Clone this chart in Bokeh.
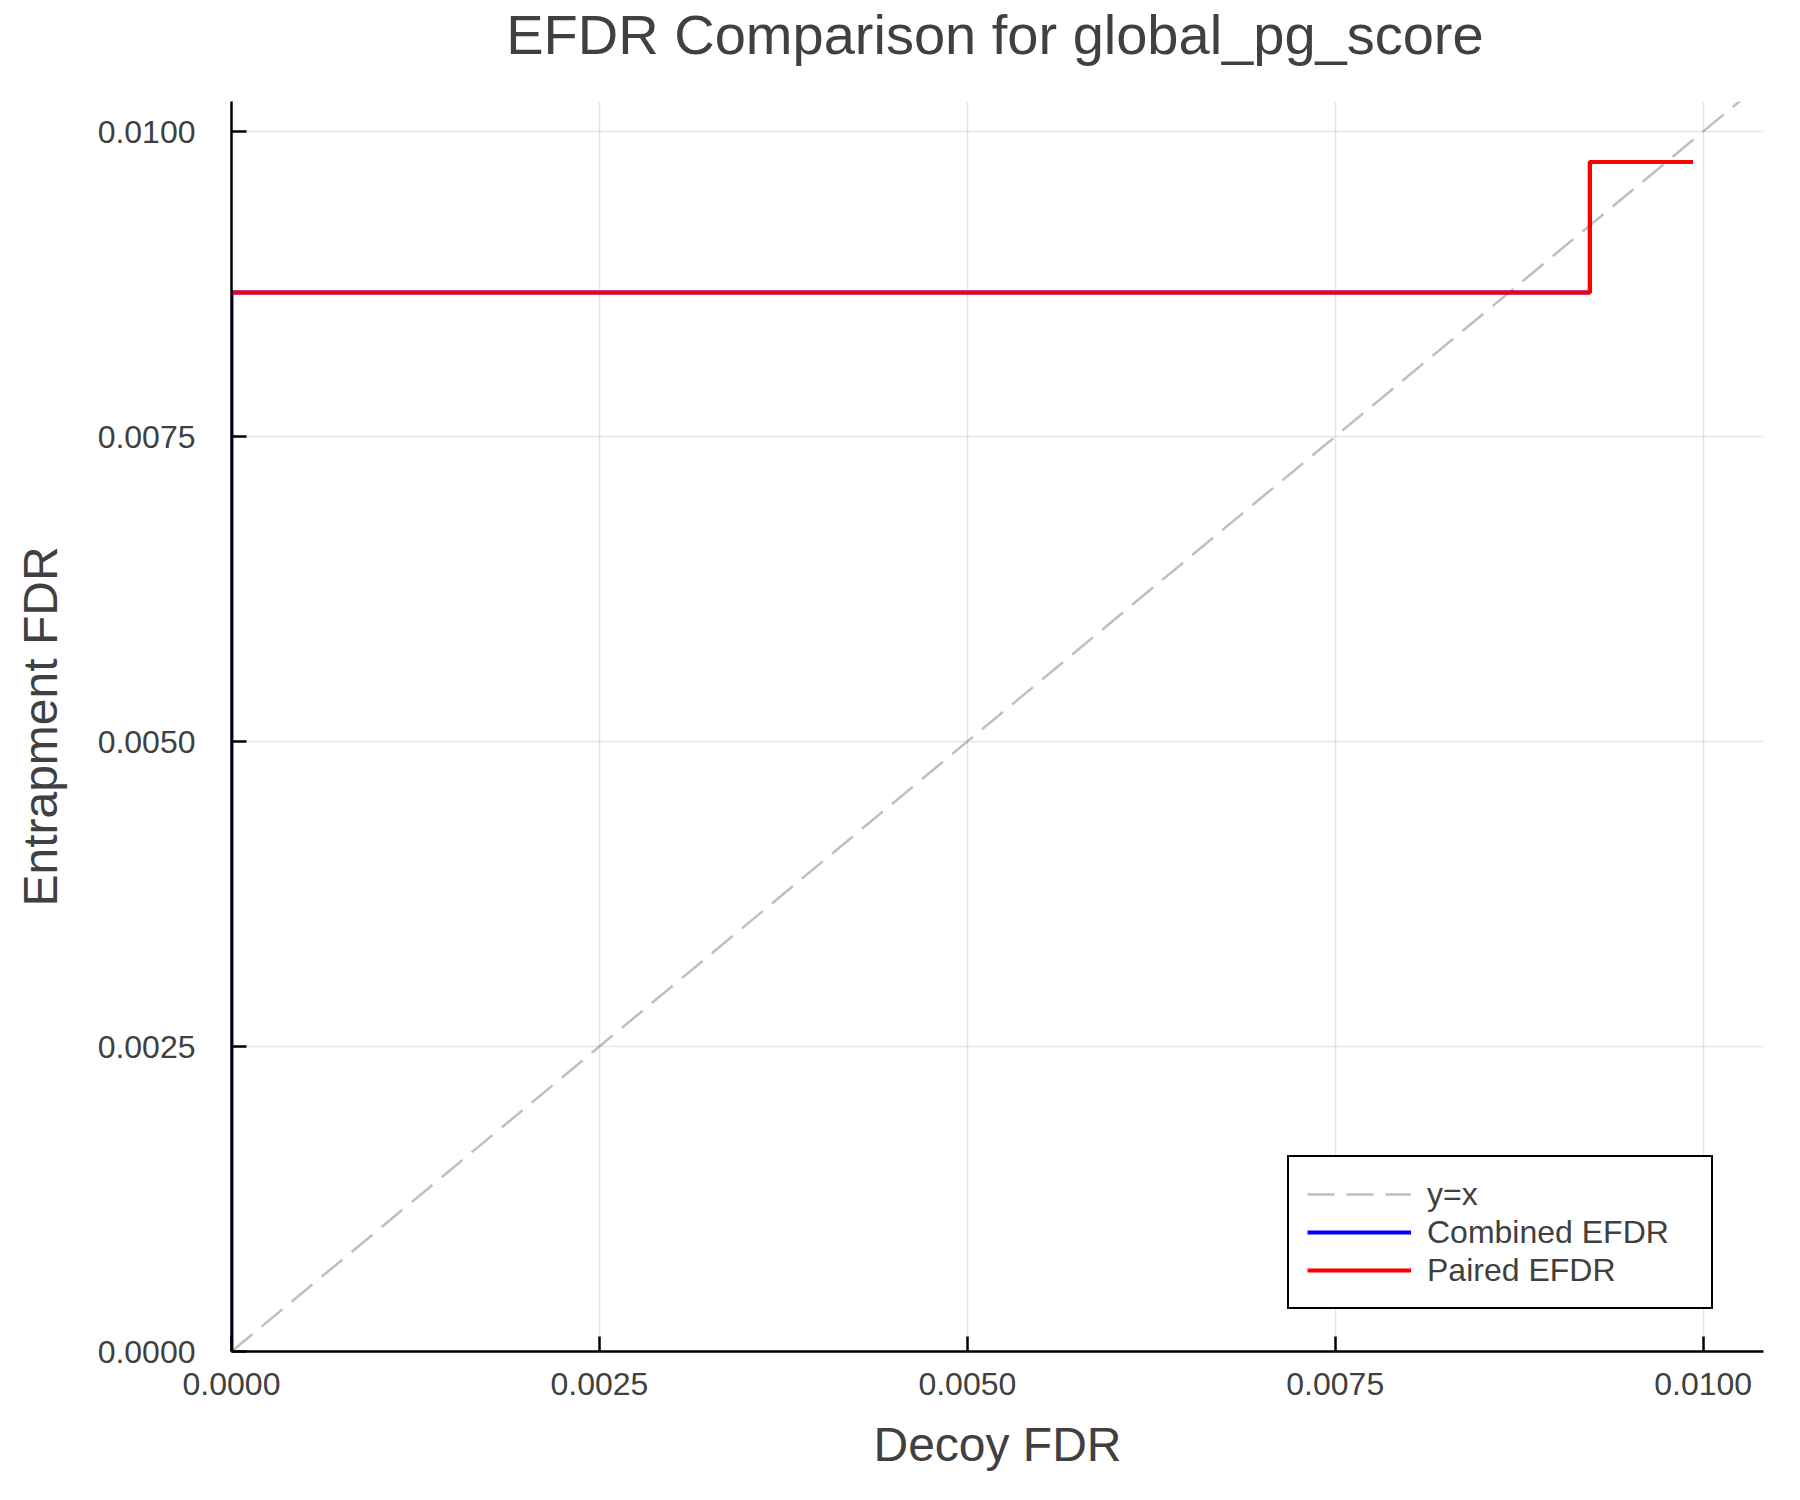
from bokeh.plotting import figure
from bokeh.layouts import column
from bokeh.models import Range1d, FixedTicker, Legend, LegendItem, CustomJSTickFormatter
from bokeh.core.properties import value
from bokeh.embed import file_html
from bokeh.resources import INLINE

# ---- data ----
diag_x = [0.0, 0.0105]
diag_y = [0.0, 0.0105]
combined_x = [0.0, 0.0, 0.00923, 0.00923, 0.00993]
combined_y = [0.0, 0.00868, 0.00868, 0.00975, 0.00975]
paired_x = [0.0, 0.00923, 0.00923, 0.00993]
paired_y = [0.00868, 0.00868, 0.00975, 0.00975]
tick_values = [0.0, 0.0025, 0.005, 0.0075, 0.01]
title_text = "EFDR Comparison for global_pg_score"

FONT = "Liberation Sans"
TXT = "#404040"
TITLE_H = 80

# ---- title strip ----
t = figure(width=1800, height=TITLE_H, output_backend="svg", toolbar_location=None,
           x_range=Range1d(0, 1800), y_range=Range1d(0, TITLE_H),
           x_axis_location=None, y_axis_location=None,
           min_border_left=0, min_border_right=0, min_border_top=0, min_border_bottom=0)
t.outline_line_color = None
t.grid.visible = False
t.background_fill_color = "white"
t.border_fill_color = "white"
t.text(x=[897], y=[TITLE_H - 34], text=[title_text], text_align="center",
       text_baseline="middle", text_font=value(FONT), text_font_size="56px",
       text_color=TXT)

# ---- main plot ----
p = figure(width=1800, height=1500 - TITLE_H, output_backend="svg", toolbar_location=None,
           x_range=Range1d(0.0, 0.01041), y_range=Range1d(0.0, 0.010246),
           min_border_left=231, min_border_right=37, min_border_top=101 - TITLE_H,
           min_border_bottom=149)
p.outline_line_color = None
p.background_fill_color = "white"
p.border_fill_color = "white"

for ax in (p.xaxis[0], p.yaxis[0]):
    ax.ticker = FixedTicker(ticks=tick_values)
    ax.formatter = CustomJSTickFormatter(code="return tick.toFixed(4);")
    ax.axis_line_color = "black"
    ax.axis_line_width = 2.5
    ax.major_tick_line_color = "black"
    ax.major_tick_line_width = 2.5
    ax.major_tick_in = 15
    ax.major_tick_out = 0
    ax.minor_tick_line_color = None
    ax.major_label_text_font = FONT
    ax.major_label_text_font_size = "32px"
    ax.major_label_text_color = TXT
    ax.axis_label_text_font = FONT
    ax.axis_label_text_font_size = "48px"
    ax.axis_label_text_font_style = "normal"
    ax.axis_label_text_color = TXT

p.xaxis.axis_label = "Decoy FDR"
p.yaxis.axis_label = "Entrapment FDR"
p.xaxis.major_label_standoff = 21
p.yaxis.major_label_standoff = 36
p.xaxis.axis_label_standoff = 20
p.yaxis.axis_label_standoff = 28

p.xgrid.ticker = FixedTicker(ticks=tick_values)
p.ygrid.ticker = FixedTicker(ticks=tick_values)
p.grid.grid_line_color = "black"
p.grid.grid_line_alpha = 0.1
p.grid.grid_line_width = 1.5

r_diag = p.line(diag_x, diag_y, line_color="gray", line_alpha=0.5, line_width=2.5,
                line_dash="27 12")
r_comb = p.line(combined_x, combined_y, line_color="blue", line_width=4)
r_pair = p.line(paired_x, paired_y, line_color="red", line_width=4)

legend = Legend(items=[LegendItem(label="y=x", renderers=[r_diag]),
                       LegendItem(label="Combined EFDR", renderers=[r_comb]),
                       LegendItem(label="Paired EFDR", renderers=[r_pair])],
                location=(1056, 42))
legend.label_text_font = FONT
legend.label_text_font_size = "32px"
legend.label_text_color = TXT
legend.border_line_color = "black"
legend.border_line_alpha = 1.0
legend.border_line_width = 2.5
legend.background_fill_color = "white"
legend.background_fill_alpha = 1.0
legend.padding = 18
legend.spacing = 0
legend.margin = 0
legend.glyph_width = 104
legend.glyph_height = 38
legend.label_height = 38
legend.label_width = 266
legend.label_standoff = 16
p.add_layout(legend, "center")

layout = column(t, p, spacing=0)
open("out.html", "w").write(file_html(layout, INLINE))
